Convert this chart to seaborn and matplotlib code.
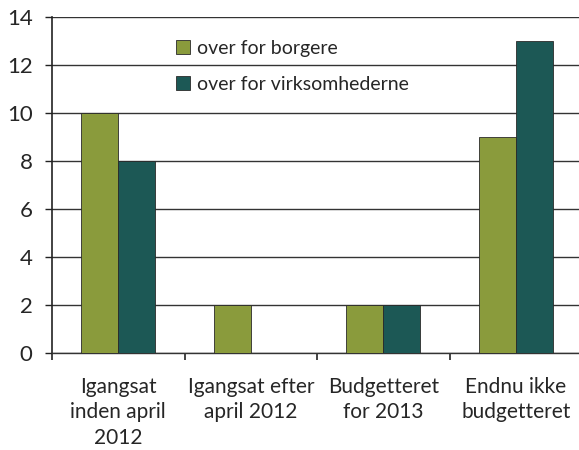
import pandas as pd
import matplotlib.pyplot as plt
import seaborn as sns

categories = ["Igangsat\ninden april\n2012", "Igangsat efter\napril 2012",
              "Budgetteret\nfor 2013", "Endnu ikke\nbudgetteret"]
series_names = ["over for borgere", "over for virksomhederne"]
borgere = [10, 2, 2, 9]
virksomheder = [8, 0, 2, 13]

df = pd.DataFrame({
    "kategori": categories * 2,
    "serie": [series_names[0]] * 4 + [series_names[1]] * 4,
    "antal": borgere + virksomheder,
})

sns.set_style("white")
plt.rcParams["font.family"] = ["Lato", "DejaVu Sans"]

fig = plt.figure(figsize=(5.79, 4.5), dpi=100)
ax = fig.add_axes([52 / 579, 1 - 353 / 450, 530 / 579, 336 / 450])

sns.barplot(data=df, x="kategori", y="antal", hue="serie", ax=ax,
            palette=["#8a9b3c", "#1c5855"], width=0.56, gap=0,
            edgecolor="#2a2a2a", linewidth=0.6, saturation=1, zorder=3)

ax.set_ylim(0, 14)
ax.set_xlim(-0.5, 3.5)
ax.set_yticks(range(0, 15, 2))
ax.yaxis.grid(True, color="#333333", linewidth=1.0, zorder=0)
ax.set_axisbelow(True)
ax.set_xlabel("")
ax.set_ylabel("")

# category boundary ticks
ax.set_xticks([0, 1, 2, 3])
ax.set_xticks([-0.5, 0.5, 1.5, 2.5], minor=True)
ax.tick_params(axis="x", which="major", length=0, labelsize=15, pad=17)
ax.tick_params(axis="x", which="minor", length=5, width=1.2, color="#222222",
               direction="out", bottom=True)
ax.tick_params(axis="y", length=5, width=1.0, color="#222222", left=True,
               labelsize=16, pad=9)
for lbl in ax.get_xticklabels():
    lbl.set_linespacing(1.35)

for side in ["top", "right"]:
    ax.spines[side].set_visible(False)
ax.spines["left"].set_color("#222222")
ax.spines["left"].set_linewidth(1.2)
ax.spines["bottom"].set_color("#333333")
ax.spines["bottom"].set_linewidth(1.0)

ax.legend(title=None, frameon=False, fontsize=14, loc="upper left",
          bbox_to_anchor=(0.2, 0.985), handlelength=0.75, handleheight=0.75,
          handletextpad=0.35, labelspacing=1.0)

fig.savefig("out.png", dpi=100)
plt.close(fig)
